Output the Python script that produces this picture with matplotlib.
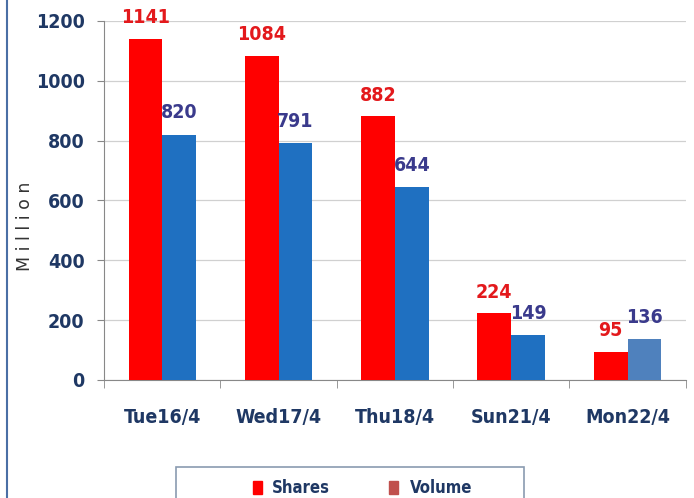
import matplotlib
matplotlib.use('Agg')
import matplotlib.pyplot as plt
import numpy as np
from matplotlib.patches import Rectangle
from matplotlib.lines import Line2D

days = ['Tue16/4', 'Wed17/4', 'Thu18/4', 'Sun21/4', 'Mon22/4']
shares = [1141, 1084, 882, 224, 95]
volume = [820, 791, 644, 149, 136]

navy = '#1f3864'
cond = dict(family='DejaVu Sans', stretch='condensed', fontweight='bold')

fig = plt.figure(figsize=(6.94, 4.98), dpi=100)
ax = fig.add_axes([0.15, 0.237, 0.838, 0.721])

x = np.arange(len(days))
w = 0.29
vol_colors = ['#1f70c1'] * 4 + ['#4f81bd']
ax.bar(x - w / 2, shares, w, color='#ff0000', zorder=3)
ax.bar(x + w / 2, volume, w, color=vol_colors, zorder=3)

for i in x:
    ax.text(i - w / 2, shares[i] + 38, str(shares[i]), ha='center', va='bottom',
            color='#e3191c', fontsize=14, **cond)
    ax.text(i + w / 2, volume[i] + 42, str(volume[i]), ha='center', va='bottom',
            color='#3a3a8c', fontsize=14, **cond)

ax.set_xlim(-0.5, len(days) - 0.5)
ax.set_ylim(0, 1200)
ax.set_yticks(range(0, 1201, 200))
ax.set_yticklabels([str(v) for v in range(0, 1201, 200)], color=navy,
                   fontsize=14, **cond)
ax.set_xticks(x)
ax.set_xticklabels(days, color=navy, fontsize=14, **cond)
ax.set_xticks(np.arange(-0.5, len(days)), minor=True)
ax.tick_params(axis='x', which='major', length=0, pad=20)
ax.tick_params(axis='x', which='minor', length=6, color='#888888')
ax.tick_params(axis='y', length=5, color='#888888', pad=9)
ax.grid(axis='y', color='#d0d0d0', linewidth=0.9, zorder=0)
for s in ['top', 'right']:
    ax.spines[s].set_visible(False)
for s in ['left', 'bottom']:
    ax.spines[s].set_color('#888888')

fig.text(0.036, 0.545, 'M i l l i o n', rotation=90, ha='center', va='center',
         fontsize=12.5, color='#333333')

# left frame line
fig.add_artist(Line2D([0.010, 0.010], [0, 1], color='#4a6fa5', linewidth=1.5))

# legend box
fig.add_artist(Rectangle((176 / 694, -0.02), 348 / 694, 0.082, fill=False,
                         edgecolor='#8a9bb0', linewidth=1.2))
fig.add_artist(Rectangle((253 / 694, 0.008), 9 / 694, 0.026, color='#ff0000'))
fig.text(272 / 694, 0.020, 'Shares', color=navy, fontsize=12, va='center', **cond)
fig.add_artist(Rectangle((389 / 694, 0.008), 9 / 694, 0.026, color='#c0504d'))
fig.text(410 / 694, 0.020, 'Volume', color=navy, fontsize=12, va='center', **cond)

fig.savefig('out.png', dpi=100)
